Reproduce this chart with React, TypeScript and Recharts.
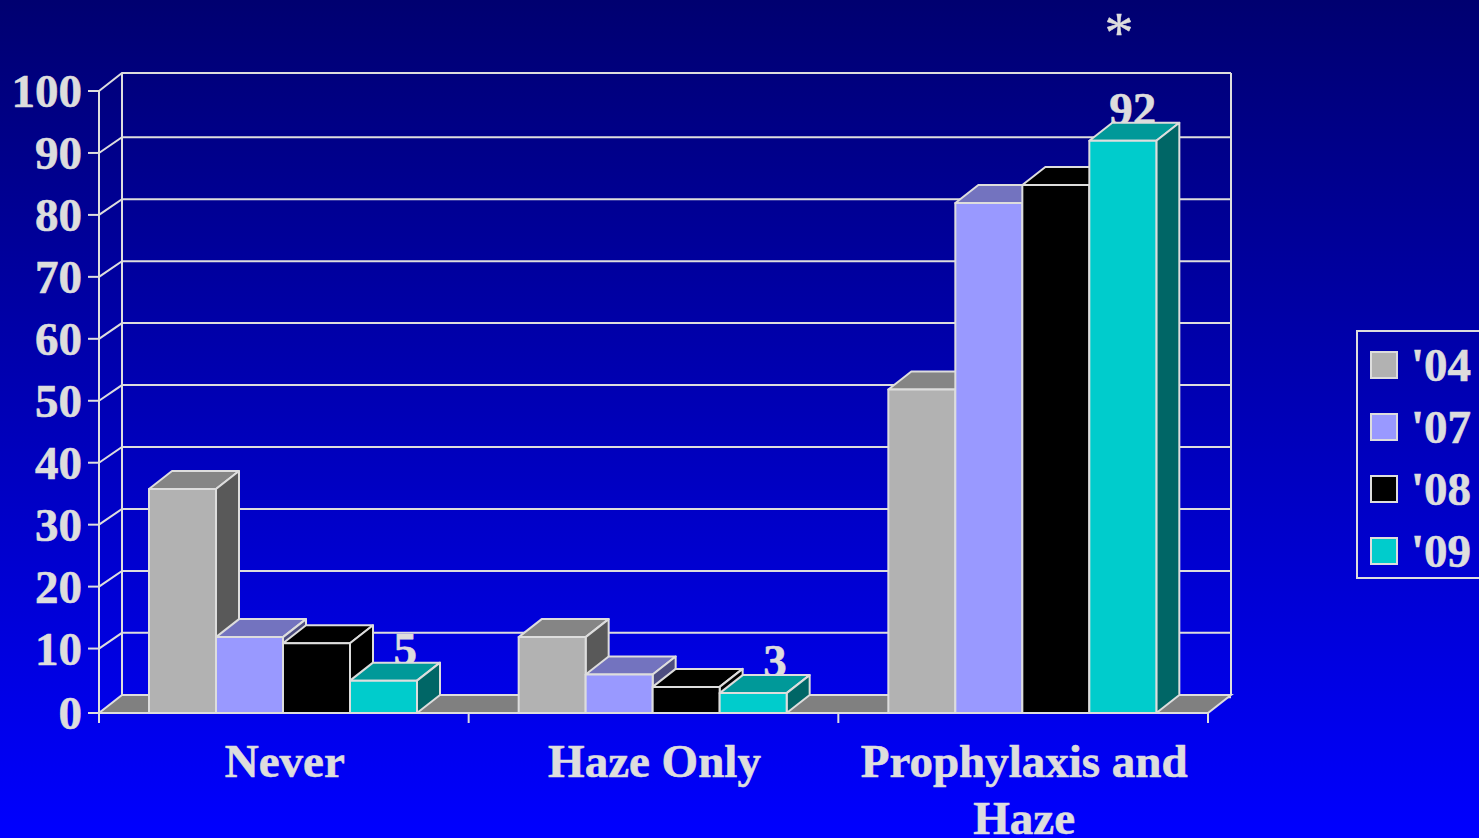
import { Bar, BarChart, CartesianGrid, Legend, XAxis, YAxis, usePlotArea } from 'recharts'

const categories = ['Never', 'Haze Only', 'Prophylaxis and Haze']
const categoryLines = [['Never'], ['Haze Only'], ['Prophylaxis and', 'Haze']]
const values04 = [36, 12.2, 52]
const values07 = [12.2, 6.2, 82]
const values08 = [11.2, 4.2, 84.9]
const values09 = [5.2, 3.2, 92]
const labels09 = ['5', '3', '92']
const yTicks = [0, 10, 20, 30, 40, 50, 60, 70, 80, 90, 100]

const rows = categories.map((name, i) => ({
  name,
  y04: values04[i],
  y07: values07[i],
  y08: values08[i],
  y09: values09[i],
  label: labels09[i],
}))

const INK = '#dddddd'
const FONT = '"Liberation Serif", serif'
const FONT_SIZE = 47
const TEXT_WEIGHT = { fontFamily: FONT, fontWeight: 'bold', fontSize: FONT_SIZE, stroke: INK, strokeWidth: 0.6 }
const PLOT_TOP = 91
const PLOT_BOTTOM = 713
// how far the 3d box goes back
const DX = 23
const DY = -18

// the original snaps inner gridlines a little upward
function snapY(y: number) {
  return y >= PLOT_BOTTOM - 1 ? y : y - (y - PLOT_TOP) * 0.004
}

function box3d(top: string, side: string, showLabel = false) {
  return (props: any) => {
    const { x, y, width, height, fill, payload } = props
    const right = x + width
    const bottom = y + height
    return (
      <g stroke={INK} strokeWidth={2} strokeLinejoin="round">
        {showLabel && (
          <text x={right} y={y - 16} textAnchor="end" fill={INK} style={TEXT_WEIGHT}>
            {payload.label}
          </text>
        )}
        <polygon points={`${x},${y} ${x + DX},${y + DY} ${right + DX},${y + DY} ${right},${y}`} fill={top} />
        <polygon points={`${right},${y} ${right + DX},${y + DY} ${right + DX},${bottom + DY} ${right},${bottom}`} fill={side} />
        <rect x={x} y={y} width={width} height={height} fill={fill} />
      </g>
    )
  }
}

function GridLine(props: any) {
  const { x1, x2, y1, index } = props
  const y = snapY(y1)
  const back = y1 <= PLOT_TOP + 1 ? y + DY : y - 15.7
  return (
    <polyline
      key={index}
      points={`${x1},${y} ${x1 + DX},${back} ${x2 + DX},${back}`}
      fill="none"
      stroke={INK}
      strokeWidth={2}
    />
  )
}

function Walls() {
  const plot = usePlotArea()
  if (!plot) return null
  const { x, y, width, height } = plot
  const bottom = y + height
  const right = x + width
  const step = width / categories.length
  return (
    <g stroke={INK} strokeWidth={2}>
      <line x1={x + DX} y1={y + DY} x2={x + DX} y2={bottom + DY} />
      <line x1={right + DX} y1={y + DY} x2={right + DX} y2={bottom + DY} />
      <polygon
        points={`${x},${bottom} ${x + DX},${bottom + DY} ${right + DX},${bottom + DY} ${right},${bottom}`}
        fill="#808080"
      />
      {[0, 1, 2, 3].map((i) => (
        <line key={i} x1={x + i * step} y1={bottom} x2={x + i * step} y2={bottom + 10} />
      ))}
    </g>
  )
}

function CategoryTick(props: any) {
  const { x, y, index } = props
  return (
    <text x={x + 1} y={y} textAnchor="middle" fill={INK} style={TEXT_WEIGHT}>
      {categoryLines[index].map((line, i) => (
        <tspan key={line} x={x + 1} dy={i === 0 ? 33 : 57}>
          {line}
        </tspan>
      ))}
    </text>
  )
}

function ValueTick(props: any) {
  const { x, y, payload } = props
  const snapped = snapY(y)
  return (
    <g>
      <line x1={x + 6} y1={snapped} x2={x + 17} y2={snapped} stroke={INK} strokeWidth={2} />
      <text x={x} y={snapped} dy="0.35em" textAnchor="end" fill={INK} style={TEXT_WEIGHT}>
        {payload.value}
      </text>
    </g>
  )
}

function YearLegend(props: any) {
  return (
    <div
      style={{
        width: 140,
        height: 245,
        border: `2px solid ${INK}`,
        boxSizing: 'content-box',
        fontFamily: FONT,
        fontWeight: 'bold',
        fontSize: FONT_SIZE,
        color: INK,
        WebkitTextStroke: `0.6px ${INK}`,
        position: 'relative',
      }}
    >
      {props.payload.map((item: any, i: number) => (
        <div
          key={item.value}
          style={{ position: 'absolute', left: 12, top: 2 + i * 62, height: 62, display: 'flex', alignItems: 'center', lineHeight: '62px' }}
        >
          <span style={{ width: 24, height: 24, border: `2px solid ${INK}`, background: item.color, marginRight: 13 }} />
          {item.value}
        </div>
      ))}
    </div>
  )
}

export default function App() {
  return (
    <div
      style={{
        position: 'absolute',
        left: 0,
        top: 0,
        width: 1479,
        height: 838,
        overflow: 'hidden',
        background: 'linear-gradient(#000070, #0000ff)',
      }}
    >
      <BarChart
        width={1479}
        height={838}
        data={rows}
        margin={{ top: PLOT_TOP, right: 271, bottom: 0, left: 0 }}
        barCategoryGap={50}
        barGap={0}
      >
        <CartesianGrid horizontal={GridLine} vertical={false} />
        <Walls />
        <XAxis
          dataKey="name"
          height={838 - PLOT_BOTTOM}
          interval={0}
          tick={CategoryTick}
          tickLine={false}
          tickMargin={25}
          axisLine={{ stroke: INK, strokeWidth: 2 }}
        />
        <YAxis
          width={99}
          domain={[0, 100]}
          ticks={yTicks}
          interval={0}
          tickSize={11}
          tickMargin={6}
          tickLine={false}
          axisLine={{ stroke: INK, strokeWidth: 2 }}
          tick={ValueTick}
        />
        <Legend
          layout="vertical"
          align="center"
          verticalAlign="middle"
          content={YearLegend}
          wrapperStyle={{ left: 1356, top: 330, width: 140, margin: 0 }}
        />
        <Bar dataKey="y04" name="'04" fill="#b2b2b2" isAnimationActive={false} shape={box3d('#858585', '#595959')} />
        <Bar dataKey="y07" name="'07" fill="#9999ff" isAnimationActive={false} shape={box3d('#7373bf', '#4d4d80')} />
        <Bar dataKey="y08" name="'08" fill="#000000" isAnimationActive={false} shape={box3d('#000000', '#000000')} />
        <Bar dataKey="y09" name="'09" fill="#00cccc" isAnimationActive={false} shape={box3d('#009999', '#006666', true)} />
        <text x={1119} y={52} textAnchor="middle" fill={INK} stroke={INK} strokeWidth={0.5} fontFamily={FONT} fontSize={58}>
          *
        </text>
      </BarChart>
    </div>
  )
}
